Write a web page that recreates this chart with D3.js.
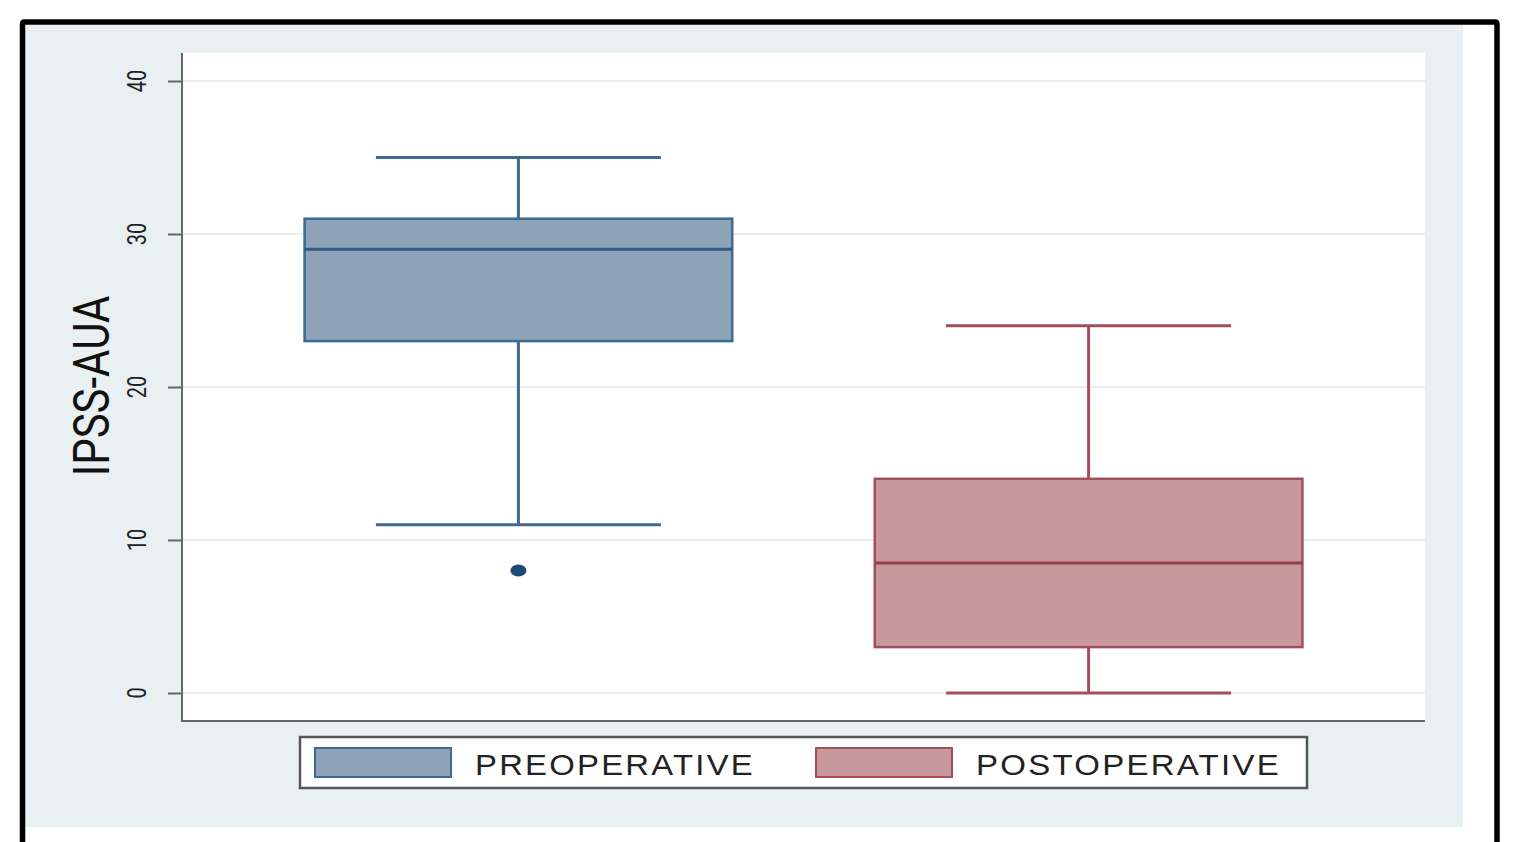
<!DOCTYPE html>
<html>
<head>
<meta charset="utf-8">
<script src="https://cdn.jsdelivr.net/npm/d3@7/dist/d3.min.js"></script>
<style>
  html, body { margin: 0; padding: 0; background: #ffffff; }
  svg { display: block; }
</style>
</head>
<body>
<svg id="chart" width="1524" height="842"></svg>
<script>
// Box plot summaries of IPSS-AUA scores
const groups = ["PREOPERATIVE", "POSTOPERATIVE"];
const whiskerLow = [11, 0];
const q1 = [23, 3];
const median = [29, 8.5];
const q3 = [31, 14];
const whiskerHigh = [35, 24];
const outliers = [[8], []];
const yTicks = [0, 10, 20, 30, 40];
const yTitle = "IPSS-AUA";

const fills = ["#8ca3b8", "#c8999c"];
const strokes = ["#3f6992", "#a24f5a"];
const medianStrokes = ["#2f5a84", "#983f4c"];
const outlierColor = "#1b4a78";

const svg = d3.select("#chart");

// outer frame and region background
svg.append("rect").attr("x", 25).attr("y", 25).attr("width", 1438).attr("height", 802)
  .attr("fill", "#e8f0f2");
svg.append("path")
  .attr("d", "M22.5,842 L22.5,24 Q22.5,22 24.5,22 L1495,22 Q1497,22 1497,24 L1497,842")
  .attr("fill", "none").attr("stroke", "#000").attr("stroke-width", 5.5);

// plot region
const plot = { left: 182, right: 1425, top: 53, bottom: 721 };
svg.append("rect").attr("x", plot.left).attr("y", plot.top)
  .attr("width", plot.right - plot.left).attr("height", plot.bottom - plot.top)
  .attr("fill", "#ffffff");

const y = d3.scaleLinear().domain([0, 40]).range([693, 81]);
const x = d3.scalePoint().domain(groups).range([plot.left, plot.right]).padding(0.59);
const step = x.step();
const boxW = step * 0.75;
const capW = step * 0.5;

// gridlines
svg.append("g").selectAll("line").data(yTicks).join("line")
  .attr("x1", plot.left).attr("x2", plot.right)
  .attr("y1", d => y(d)).attr("y2", d => y(d))
  .attr("stroke", "#e6eff1").attr("stroke-width", 2);

// y axis
const yAxis = svg.append("g").attr("transform", `translate(${plot.left},0)`)
  .call(d3.axisLeft(y).tickValues(yTicks).tickSize(14).tickFormat(""));
yAxis.select(".domain").remove();
yAxis.selectAll(".tick line").attr("stroke", "#666").attr("stroke-width", 2);

svg.append("line").attr("x1", plot.left).attr("x2", plot.left)
  .attr("y1", plot.top).attr("y2", plot.bottom + 1)
  .attr("stroke", "#666").attr("stroke-width", 2);
svg.append("line").attr("x1", plot.left - 1).attr("x2", plot.right)
  .attr("y1", plot.bottom).attr("y2", plot.bottom)
  .attr("stroke", "#666").attr("stroke-width", 2);

// rotated tick labels
svg.append("g").selectAll("text").data(yTicks).join("text")
  .attr("transform", d => `translate(146,${y(d)}) rotate(-90) scale(1,1.3)`)
  .attr("text-anchor", "middle")
  .attr("font-family", "Roboto, 'Liberation Sans', sans-serif")
  .attr("font-size", 20)
  .attr("fill", "#222")
  .text(d => d);

// axis title
svg.append("text")
  .attr("transform", "translate(109,386) rotate(-90) scale(1,1.2)")
  .attr("text-anchor", "middle")
  .attr("font-family", "Roboto, 'Liberation Sans', sans-serif")
  .attr("font-size", 42)
  .attr("fill", "#111")
  .text(yTitle);

// boxes
const boxes = svg.append("g");
groups.forEach((g, i) => {
  const cx = x(g);
  const grp = boxes.append("g");
  // whiskers
  grp.append("line").attr("x1", cx).attr("x2", cx)
    .attr("y1", y(q3[i])).attr("y2", y(whiskerHigh[i]))
    .attr("stroke", strokes[i]).attr("stroke-width", 3);
  grp.append("line").attr("x1", cx).attr("x2", cx)
    .attr("y1", y(q1[i])).attr("y2", y(whiskerLow[i]))
    .attr("stroke", strokes[i]).attr("stroke-width", 3);
  [whiskerHigh[i], whiskerLow[i]].forEach(v => {
    grp.append("line").attr("x1", cx - capW / 2).attr("x2", cx + capW / 2)
      .attr("y1", y(v)).attr("y2", y(v))
      .attr("stroke", strokes[i]).attr("stroke-width", 3);
  });
  // box
  grp.append("rect").attr("x", cx - boxW / 2).attr("width", boxW)
    .attr("y", y(q3[i])).attr("height", y(q1[i]) - y(q3[i]))
    .attr("fill", fills[i]).attr("stroke", strokes[i]).attr("stroke-width", 2.5);
  // median
  grp.append("line").attr("x1", cx - boxW / 2).attr("x2", cx + boxW / 2)
    .attr("y1", y(median[i])).attr("y2", y(median[i]))
    .attr("stroke", medianStrokes[i]).attr("stroke-width", 3);
  // outliers
  grp.selectAll("ellipse").data(outliers[i]).join("ellipse")
    .attr("cx", cx).attr("cy", d => y(d)).attr("rx", 8).attr("ry", 6)
    .attr("fill", outlierColor);
});

// legend
const legend = svg.append("g");
legend.append("rect").attr("x", 300).attr("y", 737).attr("width", 1007).attr("height", 51)
  .attr("fill", "#ffffff").attr("stroke", "#555").attr("stroke-width", 2.5);
const keyX = [315, 816];
const textX = [475, 976];
const textW = [280, 305];
groups.forEach((g, i) => {
  legend.append("text").attr("x", textX[i]).attr("y", 775)
    .attr("font-family", "'Liberation Sans', Arial, sans-serif")
    .attr("font-size", 29)
    .attr("letter-spacing", 2)
    .attr("fill", "#222")
    .attr("textLength", textW[i]).attr("lengthAdjust", "spacingAndGlyphs")
    .text(g);
  legend.append("rect").attr("x", keyX[i]).attr("y", 748).attr("width", 136).attr("height", 29)
    .attr("fill", fills[i]).attr("stroke", strokes[i]).attr("stroke-width", 2);
});
</script>
</body>
</html>
